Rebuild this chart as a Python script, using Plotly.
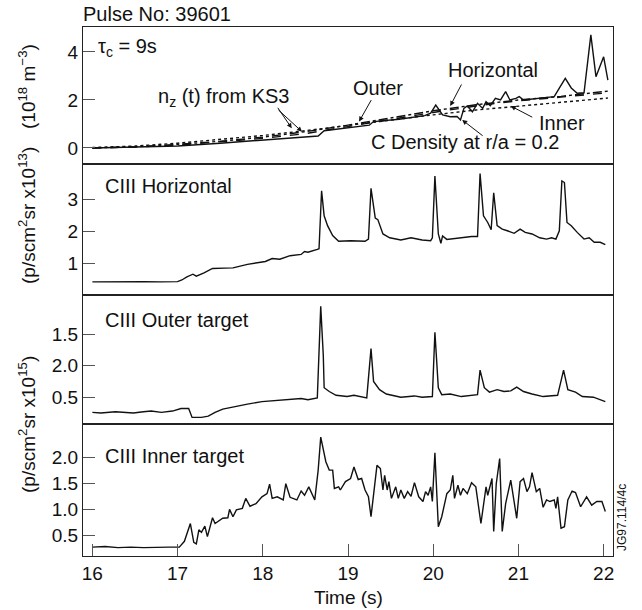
import plotly.graph_objects as go

# ---------------- data ----------------
# Top panel: modelled carbon density (10^18 m^-3)
t_model = [16.0, 16.5, 17.0, 17.5, 18.0, 18.5, 19.0, 19.5, 20.0, 20.5, 21.0, 21.5, 22.05]
horizontal_model = [0.0, 0.05, 0.15, 0.28, 0.45, 0.68, 0.95, 1.25, 1.55, 1.80, 2.00, 2.15, 2.37]
outer_model = [0.0, 0.04, 0.12, 0.25, 0.40, 0.60, 0.90, 1.20, 1.48, 1.75, 1.97, 2.12, 2.30]
inner_model = [0.02, 0.08, 0.20, 0.35, 0.52, 0.72, 0.95, 1.17, 1.38, 1.58, 1.75, 1.92, 2.08]

t_cdens = [16.0, 16.5, 17.0, 17.5, 18.0, 18.4, 18.65, 18.72, 19.0, 19.25, 19.3, 19.6, 19.9, 19.97, 20.03,
           20.11, 20.2, 20.28, 20.32, 20.36, 20.40, 20.46, 20.52, 20.58, 20.62, 20.67, 20.73, 20.79, 20.85, 20.90,
           20.97, 21.01, 21.06, 21.2, 21.35, 21.42, 21.48, 21.55, 21.62, 21.69, 21.77, 21.85, 21.91, 22.0, 22.05]
c_density = [0.0, 0.03, 0.08, 0.2, 0.33, 0.45, 0.5, 0.72, 0.85, 0.95, 1.1, 1.2, 1.35, 1.45, 1.79,
             1.38, 1.3, 1.31, 1.17, 1.65, 1.75, 1.51, 1.86, 1.65, 1.93, 1.76, 2.07, 2.0, 2.35, 2.0,
             2.07, 2.14, 2.0, 2.05, 2.1, 2.14, 2.49, 2.9, 2.5, 2.28, 2.3, 4.71, 2.97, 3.80, 2.83]

# CIII Horizontal (p/scm2sr x10^13)
t_horiz = [16.00, 16.20, 16.40, 16.60, 16.80, 17.00, 17.05, 17.11, 17.18, 17.22, 17.31, 17.41, 17.55, 17.65,
           17.82, 17.94, 18.03, 18.11, 18.20, 18.32, 18.45, 18.49, 18.53, 18.64, 18.66, 18.69, 18.72, 18.76,
           18.82, 18.89, 19.03, 19.20, 19.24, 19.27, 19.32, 19.35, 19.41, 19.49, 19.62, 19.74, 19.87, 19.97,
           19.99, 20.02, 20.06, 20.09, 20.11, 20.16, 20.29, 20.45, 20.52, 20.55, 20.59, 20.64, 20.68, 20.71,
           20.75, 20.81, 20.87, 20.95, 21.02, 21.08, 21.16, 21.25, 21.33, 21.39, 21.44, 21.48, 21.51, 21.54,
           21.57, 21.62, 21.69, 21.77, 21.83, 21.89, 21.96, 22.02]
ciii_horiz = [0.41, 0.42, 0.41, 0.42, 0.41, 0.42, 0.47, 0.57, 0.65, 0.59, 0.69, 0.83, 0.84, 0.85,
              0.96, 1.01, 1.05, 1.14, 1.12, 1.23, 1.27, 1.36, 1.34, 1.43, 1.45, 3.26, 2.48, 2.17,
              1.86, 1.68, 1.70, 1.68, 1.75, 3.34, 2.41, 2.36, 1.91, 1.79, 1.72, 1.79, 1.72, 1.70,
              1.79, 3.72, 1.91, 1.62, 1.85, 1.74, 1.79, 1.83, 1.83, 3.80, 2.48, 2.27, 2.04, 3.20,
              2.17, 2.06, 2.01, 1.93, 2.06, 1.96, 1.91, 1.79, 1.75, 1.79, 1.75, 2.01, 3.57, 3.52,
              2.27, 2.17, 1.96, 1.75, 1.79, 1.65, 1.65, 1.58]

# CIII Outer target (p/scm2sr x10^15)
t_outer = [16.00, 16.10, 16.27, 16.40, 16.48, 16.60, 16.69, 16.81, 16.94, 17.04, 17.13, 17.17, 17.28, 17.36,
           17.44, 17.53, 17.69, 17.82, 17.99, 18.20, 18.36, 18.45, 18.53, 18.64, 18.68, 18.71, 18.72, 18.78,
           18.86, 18.99, 19.07, 19.22, 19.27, 19.30, 19.37, 19.45, 19.62, 19.78, 19.87, 19.99, 20.02, 20.06,
           20.10, 20.20, 20.33, 20.52, 20.55, 20.60, 20.66, 20.75, 20.83, 20.91, 20.98, 21.06, 21.16, 21.29,
           21.46, 21.53, 21.58, 21.67, 21.75, 21.88, 22.02]
ciii_outer = [0.26, 0.25, 0.27, 0.26, 0.25, 0.27, 0.28, 0.26, 0.28, 0.32, 0.32, 0.18, 0.18, 0.20,
              0.26, 0.31, 0.36, 0.39, 0.43, 0.45, 0.46, 0.48, 0.46, 0.49, 1.94, 1.16, 0.65, 0.59,
              0.53, 0.51, 0.53, 0.49, 1.27, 0.75, 0.62, 0.55, 0.50, 0.52, 0.50, 0.51, 1.53, 0.65,
              0.54, 0.55, 0.51, 0.54, 0.93, 0.65, 0.58, 0.62, 0.59, 0.60, 0.66, 0.59, 0.55, 0.51,
              0.53, 0.93, 0.62, 0.58, 0.51, 0.50, 0.43]

# CIII Inner target (p/scm2sr x10^15)
t_inner = [16.00, 16.15, 16.30, 16.45, 16.60, 16.75, 16.90, 17.02, 17.08, 17.15,
           17.19, 17.22, 17.25, 17.28, 17.32, 17.35, 17.41, 17.44, 17.53, 17.59,
           17.61, 17.65, 17.69, 17.76, 17.80, 17.85, 17.92, 17.99, 18.05, 18.08,
           18.11, 18.17, 18.24, 18.27, 18.32, 18.40, 18.45, 18.49, 18.54, 18.61,
           18.65, 18.68, 18.74, 18.78, 18.82, 18.84, 18.89, 18.91, 18.97, 19.03,
           19.07, 19.12, 19.16, 19.20, 19.24, 19.27, 19.32, 19.34, 19.38, 19.41,
           19.43, 19.46, 19.48, 19.51, 19.56, 19.59, 19.62, 19.66, 19.70, 19.74,
           19.78, 19.83, 19.88, 19.91, 19.94, 19.97, 19.99, 20.02, 20.06, 20.10,
           20.16, 20.20, 20.23, 20.25, 20.29, 20.32, 20.35, 20.40, 20.45, 20.50,
           20.56, 20.62, 20.64, 20.69, 20.71, 20.74, 20.78, 20.81, 20.85, 20.91,
           20.98, 21.02, 21.06, 21.10, 21.13, 21.16, 21.21, 21.25, 21.29, 21.33,
           21.37, 21.42, 21.44, 21.46, 21.50, 21.54, 21.58, 21.63, 21.67, 21.73,
           21.80, 21.86, 21.92, 21.98, 22.02]
ciii_inner = [0.28, 0.29, 0.27, 0.28, 0.27, 0.28, 0.28, 0.28, 0.39, 0.73,
              0.37, 0.34, 0.61, 0.56, 0.68, 0.48, 0.84, 0.73, 0.83, 0.84,
              1.00, 0.86, 0.99, 1.02, 1.21, 1.06, 1.11, 1.24, 1.30, 1.48,
              1.21, 1.24, 1.18, 1.49, 1.23, 1.18, 1.35, 1.27, 1.43, 1.18,
              1.75, 2.38, 1.91, 1.75, 1.75, 1.40, 1.43, 1.37, 1.53, 1.59,
              1.81, 1.57, 1.59, 1.37, 1.24, 0.86, 1.59, 1.84, 1.78, 1.37,
              1.65, 1.37, 1.53, 1.21, 1.43, 1.21, 1.37, 1.21, 1.34, 1.25,
              1.51, 1.24, 1.15, 1.34, 1.27, 1.43, 1.15, 2.08, 0.67, 0.86,
              1.30, 1.37, 1.65, 1.21, 1.46, 1.27, 1.40, 1.30, 1.51, 1.43,
              0.73, 1.43, 1.27, 1.59, 0.58, 1.49, 1.97, 0.58, 1.11, 1.56,
              0.83, 1.53, 1.59, 1.34, 1.43, 1.70, 1.34, 1.40, 1.04, 1.18,
              1.15, 1.18, 1.02, 1.24, 0.64, 0.67, 1.18, 1.35, 1.32, 1.05,
              1.24, 1.08, 1.15, 1.15, 0.96]

x_ticks = [16, 17, 18, 19, 20, 21, 22]
y1_ticks = [0, 2, 4]
y2_ticks = [1, 2, 3]
y3_ticks = [0.5, 1.0, 1.5]
y3_ticktext = ["0.5", "2.0", "1.5"]
y4_ticks = [0.5, 1.0, 1.5, 2.0]
y4_ticktext = ["0.5", "1.0", "1.5", "2.0"]

# ---------------- layout helpers ----------------
W, H = 642, 610
ML, MR, MT, MB = 83, 29, 27, 54
PW, PH = W - ML - MR, H - MT - MB


def px(x):
    return (x - ML) / PW


def py(y):
    return (H - MB - y) / PH


FONT = "Liberation Sans, Arial, Helvetica, sans-serif"
BLACK = "#111111"

fig = go.Figure()
lw = 1.4
fig.add_trace(go.Scatter(x=t_model, y=horizontal_model, mode="lines",
                         line=dict(color=BLACK, width=lw, dash="dashdot"), xaxis="x", yaxis="y"))
fig.add_trace(go.Scatter(x=t_model, y=outer_model, mode="lines",
                         line=dict(color=BLACK, width=lw, dash="dash"), xaxis="x", yaxis="y"))
fig.add_trace(go.Scatter(x=t_model, y=inner_model, mode="lines",
                         line=dict(color=BLACK, width=lw, dash="dot"), xaxis="x", yaxis="y"))
fig.add_trace(go.Scatter(x=t_cdens, y=c_density, mode="lines",
                         line=dict(color=BLACK, width=lw), xaxis="x", yaxis="y"))
fig.add_trace(go.Scatter(x=t_horiz, y=ciii_horiz, mode="lines",
                         line=dict(color=BLACK, width=lw), xaxis="x2", yaxis="y2"))
fig.add_trace(go.Scatter(x=t_outer, y=ciii_outer, mode="lines",
                         line=dict(color=BLACK, width=lw), xaxis="x3", yaxis="y3"))
fig.add_trace(go.Scatter(x=t_inner, y=ciii_inner, mode="lines",
                         line=dict(color=BLACK, width=lw), xaxis="x4", yaxis="y4"))

bounds = [27, 164, 295, 424, 556]
domains = [[py(bounds[i + 1]), py(bounds[i])] for i in range(4)]
xr = [15.89, 22.11]

axis_common = dict(showline=True, linecolor="#222222", linewidth=1.2, mirror=True,
                   showgrid=False, zeroline=False, tickfont=dict(family=FONT, size=19, color=BLACK))

layout = dict(
    width=W, height=H, margin=dict(l=ML, r=MR, t=MT, b=MB),
    paper_bgcolor="white", plot_bgcolor="white", showlegend=False,
    font=dict(family=FONT, size=19, color=BLACK),
)
for i in range(4):
    xa = dict(axis_common, range=xr, domain=[0, 1], anchor="y" if i == 0 else f"y{i+1}")
    if i < 3:
        xa.update(showticklabels=False, ticks="")
        xa["matches"] = "x4"
    else:
        xa.update(tickmode="array", tickvals=x_ticks, ticks="inside", ticklen=12,
                  tickcolor="#555555", tickwidth=1)
    layout["xaxis" if i == 0 else f"xaxis{i+1}"] = xa

layout["yaxis"] = dict(axis_common, domain=domains[0], range=[-0.667, 5.04], anchor="x",
                       tickmode="array", tickvals=y1_ticks, ticks="inside", ticklen=12,
                       tickcolor="#555555", tickwidth=1)
layout["yaxis2"] = dict(axis_common, domain=domains[1], range=[0.0, 4.1], anchor="x2",
                        tickmode="array", tickvals=y2_ticks, ticks="inside", ticklen=12,
                        tickcolor="#555555", tickwidth=1)
layout["yaxis3"] = dict(axis_common, domain=domains[2], range=[0.075, 2.12], anchor="x3",
                        tickmode="array", tickvals=y3_ticks, ticktext=y3_ticktext, ticks="inside",
                        ticklen=12, tickcolor="#555555", tickwidth=1)
layout["yaxis4"] = dict(axis_common, domain=domains[3], range=[0.11, 2.63], anchor="x4",
                        tickmode="array", tickvals=y4_ticks, ticktext=y4_ticktext, ticks="inside",
                        ticklen=12, tickcolor="#555555", tickwidth=1)
fig.update_layout(**layout)

ann = []


def text(s, x, y, size=20, xanchor="left", angle=0):
    ann.append(dict(text=s, x=px(x), y=py(y), xref="paper", yref="paper", showarrow=False,
                    xanchor=xanchor, yanchor="middle", textangle=angle,
                    font=dict(family=FONT, size=size, color=BLACK)))


text("Pulse No: 39601", 81, 14)
text("τ<sub>c</sub> = 9s", 96, 47)
text("n<sub>z</sub> (t) from KS3", 156, 98)
text("Outer", 351, 88)
text("Horizontal", 446, 70)
text("Inner", 537, 123)
text("C Density at r/a = 0.2", 369, 142)
text("CIII Horizontal", 103, 186)
text("CIII Outer target", 103, 320)
text("CIII Inner target", 103, 456)
text("(10<sup>18</sup> m<sup>−3</sup>)", 27, 87, size=19, xanchor="center", angle=-90)
text("(p/scm<sup>2</sup>sr x10<sup>13</sup>)", 27, 216, size=19, xanchor="center", angle=-90)
text("(p/scm<sup>2</sup>sr x10<sup>15</sup>)", 27, 425, size=19, xanchor="center", angle=-90)
text("Time (s)", 348, 597, size=19, xanchor="center")
text("JG97.114/4c", 622, 518, size=12, xanchor="center", angle=-90)


def arrow(tip_t, tip_v, ax, ay):
    ann.append(dict(x=tip_t, y=tip_v, xref="x", yref="y", ax=ax, ay=ay, axref="pixel", ayref="pixel",
                    text="", showarrow=True, arrowhead=2, arrowsize=1, arrowwidth=1, arrowcolor=BLACK))


arrow(18.34, 0.82, -15, -22)
arrow(18.46, 0.68, -25, -23)
arrow(19.13, 1.10, 13, -23)
arrow(20.20, 1.75, 12, -23)
arrow(20.91, 1.75, 23, 12)
arrow(20.34, 1.17, 22, 17)

fig.update_layout(annotations=ann)
fig.write_html("out.html")
